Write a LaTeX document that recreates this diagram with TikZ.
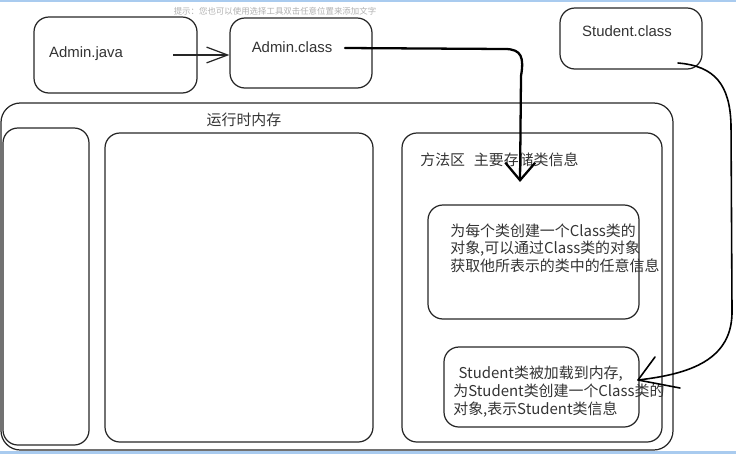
\documentclass[tikz,border=0pt]{standalone}
\usepackage{fontspec}
\setmainfont{Liberation Sans}
\newfontfamily\cjk{Noto Sans CJK SC}
\usepackage{xcolor}
\definecolor{inkLine}{HTML}{262626}
\definecolor{inkText}{HTML}{333333}
\definecolor{tipGray}{HTML}{B0B0B0}
\definecolor{frameBlue}{HTML}{A9CBEF}
\usetikzlibrary{arrows.meta, positioning, fit}

\begin{document}
\begin{tikzpicture}[x=0.02cm, y=-0.02cm,
  box/.style={draw=inkLine, line width=0.7pt, rounded corners=8.5pt,
    inner sep=0pt},
  bigbox/.style={box, rounded corners=11pt},
  lbl/.style={font=\fontsize{8.5}{10}\selectfont, text=inkText,
    inner sep=0pt},
  para/.style={lbl, align=left, anchor=west},
  arr/.style={-{Straight Barb[length=12pt, width=9pt]}, line width=0.7pt,
    color=inkLine},
  thickarr/.style={-{Straight Barb[length=10pt, width=17pt]},
    line width=1.3pt, color=black, line cap=round, line join=round},
  pen/.style={line width=0.9pt, color=black, line cap=round, line join=round},
  hint/.style={font=\fontsize{4.8}{6}\selectfont\cjk, text=tipGray}
]
  \useasboundingbox (0,0) rectangle (736,454);

  % window edges
  \fill[frameBlue] (0,0) rectangle (736,1.5);
  \fill[frameBlue] (0,451) rectangle (736,454);

  % editor hint
  \node[hint] (tip) at (275,11) {提示：您也可以使用选择工具双击任意位置来添加文字};

  % top row: source and class files
  \node[box, fit={(34,17) (197,93)}] (ajava) {};
  \node[lbl] (ajavatxt) at (86,54) {Admin.java};

  \node[box, fit={(230,18) (372,88)}] (aclass) {};
  \node[lbl] (aclasstxt) at (292,47) {Admin.class};

  \node[box, fit={(560,8) (702,69)}] (sclass) {};
  \node[lbl] (sclasstxt) at (627,31) {Student.class};

  % runtime memory
  \node[bigbox, fit={(1,103) (673,450)}] (mem) {};
  \node[lbl, font=\fontsize{8.5}{10}\selectfont\cjk] (memtxt) at (244,120)
    {运行时内存};

  \node[box, fit={(3,128) (89,445)}] (leftarea) {};
  \node[box, fit={(105,133) (373,442)}] (midarea) {};

  % method area
  \node[box, fit={(402,133) (662,442)}] (method) {};
  \node[lbl, anchor=west, font=\fontsize{8.5}{10}\selectfont\cjk] (methodtxt)
    at (420,160) {方法区\hspace{5pt}主要存储类信息};

  \node[box, fit={(428,205) (639,319)}] (classobj) {};
  \node[para, font=\fontsize{8.5}{9.9}\selectfont\cjk] (classobjtxt) at (450,248)
    {为每个类创建一个Class类的\\对象,可以通过Class类的对象\\获取他所表示的类中的任意信息};

  \node[box, fit={(444,347) (639,427)}] (stud) {};
  \node[para, font=\fontsize{8.5}{10.2}\selectfont\cjk] (studtxt) at (453,392)
    {\hspace{3pt}Student类被加载到内存,\\为Student类创建一个Class类的\\对象,表示Student类信息};

  % connectors
  \coordinate (jstart) at (173,55);
  \draw[arr] (jstart) -- (aclass.west |- jstart);

  \coordinate (cstart) at (345,48);
  \coordinate (mtip) at (520,182);
  \draw[thickarr] (cstart) -- (505,49) .. controls (522,49) and (524,58)
    .. (521,76) -- (mtip);

  \coordinate (sstart) at (678,63);
  \coordinate (stip) at (638,380);
  \draw[pen] (sstart) .. controls (715,66) and (730,85) .. (731,125)
    -- (732,310) .. controls (733,360) and (690,374) .. (stip);
  \draw[pen] (655,357) -- (stip) -- (680,388);
\end{tikzpicture}
\end{document}
